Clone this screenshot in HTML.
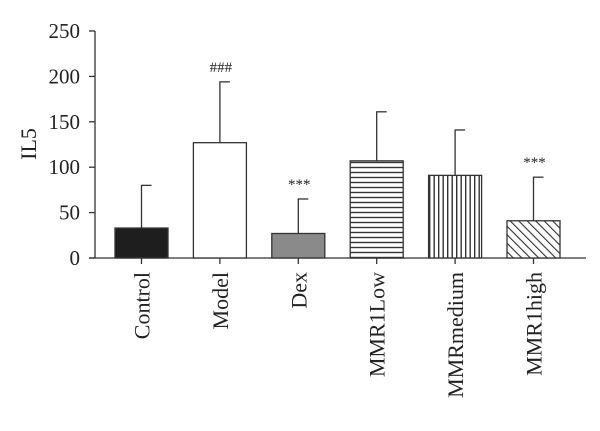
<!DOCTYPE html>
<html><head><meta charset="utf-8"><style>
body{margin:0;background:#fff}
svg text{font-family:"Liberation Serif",serif;fill:#222}
</style></head><body>
<svg width="600" height="426">
<defs>
<pattern id="hl" width="5" height="5" patternUnits="userSpaceOnUse"><rect width="5" height="5" fill="#fff"/><line x1="0" y1="2.5" x2="5" y2="2.5" stroke="#333" stroke-width="1.4"/></pattern>
<pattern id="vl" width="4.5" height="4.5" patternUnits="userSpaceOnUse"><rect width="4.5" height="4.5" fill="#fff"/><line x1="2.2" y1="0" x2="2.2" y2="4.5" stroke="#333" stroke-width="1.4"/></pattern>
<pattern id="dl" width="6" height="6" patternUnits="userSpaceOnUse" patternTransform="rotate(-45)"><rect width="6" height="6" fill="#fff"/><line x1="0" y1="0" x2="0" y2="6" stroke="#333" stroke-width="2.2"/></pattern>
</defs>
<g id="chart"></g>
</svg>
<script>
const categories=["Control","Model","Dex","MMR1Low","MMRmedium","MMR1high"];
const means=[33,127,27,107,91,41];
const upperErr=[80,194,65,161,141,89];
const marks=["","###","***","","","***"];
const yTicks=[0,50,100,150,200,250];
const fills=["#1e1e1e","#fff","#8a8a8a","url(#hl)","url(#vl)","url(#dl)"];
const NS="http://www.w3.org/2000/svg";
const g=document.getElementById('chart');
const y0=258,yTop=31,yMax=250;
function y(v){return y0-(v/yMax)*(y0-yTop);}
function x(i){return 115+i*78.4;}
const bw=53;
function mk(t,a,p){const e=document.createElementNS(NS,t);for(const k in a)e.setAttribute(k,a[k]);(p||g).appendChild(e);return e;}
let ax=mk('line',{x1:95,y1:y(yMax),x2:95,y2:y0+0.5,stroke:'#333','stroke-width':1.3});


let xa=mk('line',{x1:89,y1:y0,x2:586,y2:y0,stroke:'#333','stroke-width':1.3});


yTicks.forEach(v=>{
 mk('line',{x1:89,y1:y(v),x2:95,y2:y(v),stroke:'#333','stroke-width':1.3});
 let t=mk('text',{x:80,y:y(v)+7,'text-anchor':'end','font-size':21});t.textContent=v;
 
 
});
let yt=mk('text',{x:0,y:0,'text-anchor':'middle','font-size':22,transform:'translate(36,144) rotate(-90)'});
yt.textContent='IL5';


categories.forEach((c,i)=>{
 const cx=x(i)+bw/2;
 let e=mk('line',{x1:cx,y1:y(means[i]),x2:cx,y2:y(upperErr[i]),stroke:'#333','stroke-width':1.3});
 
 
 mk('line',{x1:cx-0.6,y1:y(upperErr[i]),x2:cx+10,y2:y(upperErr[i]),stroke:'#333','stroke-width':1.3});
 let r=mk('rect',{x:x(i),y:y(means[i]),width:bw,height:y0-y(means[i]),fill:fills[i],stroke:'#333','stroke-width':1.3});
 
 
 if(marks[i]){let m=mk('text',{x:cx+1,y:y(upperErr[i])-10,'text-anchor':'middle','font-size':15});m.textContent=marks[i];
  
  }
 mk('line',{x1:cx,y1:y0,x2:cx,y2:y0+6,stroke:'#333','stroke-width':1.3});
 let l=mk('text',{x:0,y:0,'text-anchor':'end','font-size':22,transform:`translate(${cx+8},${y0+14}) rotate(-90)`});
 l.textContent=c;
 
 
});
</script>
</body></html>
